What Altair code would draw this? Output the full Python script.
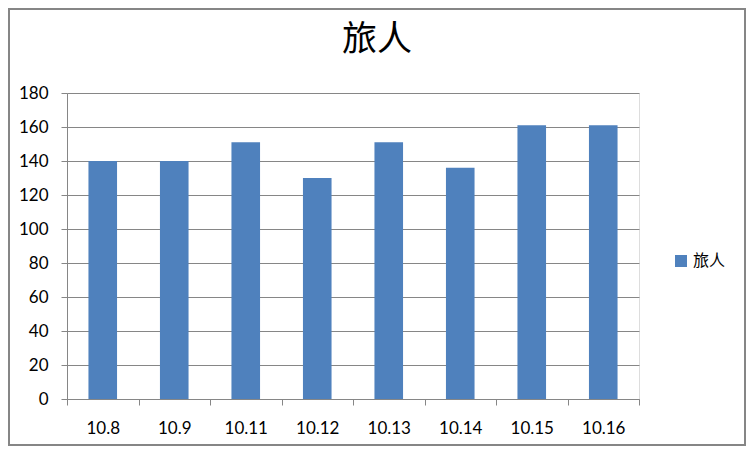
import altair as alt
import pandas as pd

categories = ["10.8", "10.9", "10.11", "10.12", "10.13", "10.14", "10.15", "10.16"]
values = [140, 140, 151, 130, 151, 136, 161, 161]
series_name = "旅人"
chart_title = "旅人"
y_ticks = [0, 20, 40, 60, 80, 100, 120, 140, 160, 180]

BLUE = "#4F81BD"
GRAY = "#868686"
W, H = 572, 306
PL, PT, PR, PB = 59, 85, 107, 47

df = pd.DataFrame({"date": categories, "value": values, "series": [series_name] * len(categories)})

bars = alt.Chart(df).mark_bar(width={"band": 0.4}).encode(
    x=alt.X(
        "date:N", sort=categories,
        scale=alt.Scale(paddingInner=0, paddingOuter=0),
        axis=alt.Axis(title=None, labelAngle=0, tickBand="extent", domainColor=GRAY,
                      tickColor=GRAY, tickSize=6, labelFont="Lato", labelFontSize=17,
                      labelColor="black", labelPadding=15, grid=False),
    ),
    y=alt.Y(
        "value:Q",
        scale=alt.Scale(domain=[0, 180], nice=False),
        axis=alt.Axis(values=y_ticks, title=None, domainColor=GRAY, tickColor=GRAY,
                      tickSize=6, gridColor=GRAY, gridWidth=1, labelFont="Lato",
                      labelFontSize=17, labelColor="black", labelPadding=13),
    ),
    color=alt.Color(
        "series:N", scale=alt.Scale(range=[BLUE]),
        legend=alt.Legend(title=None, orient="none", legendX=606, legendY=160,
                          symbolType="square", symbolSize=144, symbolStrokeWidth=0,
                          labelFont="Noto Sans CJK SC", labelFontSize=16,
                          labelColor="black", padding=0),
    ),
)

title_df = pd.DataFrame({"t": [chart_title]})
title = alt.Chart(title_df).mark_text(
    font="Noto Sans CJK SC", fontSize=35, color="black", align="center", baseline="middle"
).encode(
    text="t:N", x=alt.value(310), y=alt.value(-53),
)

frame = alt.Chart(pd.DataFrame({"a": [0]})).mark_rect(
    fillOpacity=0, stroke=GRAY, strokeWidth=2
).encode(
    x=alt.value(-PL + 1), x2=alt.value(W + PR - 1),
    y=alt.value(-PT + 1), y2=alt.value(H + PB - 1),
)

chart = alt.layer(bars, title, frame).properties(
    width=W, height=H,
    padding={"left": PL, "top": PT, "right": PR, "bottom": PB},
    autosize=alt.AutoSizeParams(type="none"),
).configure_view(strokeWidth=0).configure(background="white")

chart.save("out.html", embed_options={"renderer": "svg", "actions": False})
